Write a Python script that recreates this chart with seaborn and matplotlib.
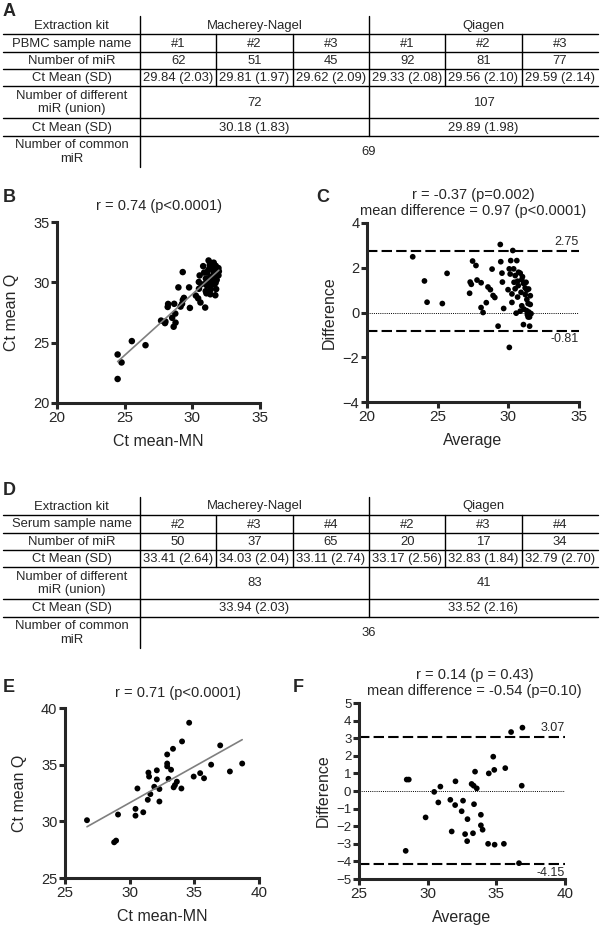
import numpy as np
import pandas as pd
import matplotlib
matplotlib.use("Agg")
import matplotlib.pyplot as plt
import seaborn as sns

# ---------------- table data ----------------
kits = ["Macherey-Nagel", "Qiagen"]

pbmc_samples = ["#1", "#2", "#3", "#1", "#2", "#3"]
pbmc_n_mir = ["62", "51", "45", "92", "81", "77"]
pbmc_ct = ["29.84 (2.03)", "29.81 (1.97)", "29.62 (2.09)",
           "29.33 (2.08)", "29.56 (2.10)", "29.59 (2.14)"]
pbmc_union = ["72", "107"]
pbmc_ct_union = ["30.18 (1.83)", "29.89 (1.98)"]
pbmc_common = "69"

serum_samples = ["#2", "#3", "#4", "#2", "#3", "#4"]
serum_n_mir = ["50", "37", "65", "20", "17", "34"]
serum_ct = ["33.41 (2.64)", "34.03 (2.04)", "33.11 (2.74)",
            "33.17 (2.56)", "32.83 (1.84)", "32.79 (2.70)"]
serum_union = ["83", "41"]
serum_ct_union = ["33.94 (2.03)", "33.52 (2.16)"]
serum_common = "36"

# ---------------- PBMC: Ct mean MN vs Q (69 common miR) ----------------
pbmc_mn = [24.48, 24.77, 24.48, 25.53, 26.54, 27.69, 27.98, 28.01, 28.62, 28.76,
           28.51, 28.74, 28.18, 28.21, 28.66, 29.13, 29.24, 29.82, 29.30, 29.38,
           28.97, 30.95, 30.60, 30.43, 30.26, 29.76, 30.49, 29.29, 31.04, 30.99,
           31.33, 30.67, 30.48, 31.70, 31.35, 31.31, 31.01, 30.54, 31.76, 31.35,
           31.00, 31.62, 31.72, 30.87, 31.69, 31.72, 30.80, 31.74, 31.81, 31.60,
           31.96, 31.73, 31.34, 31.46, 31.30, 31.40, 31.58, 31.20, 31.60, 31.80,
           31.35, 31.60, 31.30, 31.18, 31.08, 31.93, 31.93, 31.10, 31.30]
pbmc_q = [21.99, 23.36, 24.02, 25.13, 24.79, 26.83, 26.62, 26.75, 26.32, 26.66,
          27.06, 27.41, 27.96, 28.21, 28.22, 27.99, 28.22, 27.88, 28.54, 28.71,
          29.58, 27.91, 28.33, 28.67, 28.90, 29.58, 29.47, 30.85, 29.09, 29.27,
          29.01, 29.84, 30.03, 28.93, 29.40, 29.66, 29.95, 30.57, 29.44, 29.95,
          30.31, 29.82, 29.96, 30.81, 30.22, 30.42, 31.34, 30.64, 30.81, 31.02,
          30.91, 31.37, 31.26, 31.44, 31.40, 31.60, 31.63, 31.81, 30.80, 30.20,
          30.45, 31.20, 30.10, 31.03, 29.73, 30.58, 31.18, 30.80, 31.50]
pbmc_limits = [2.75, -0.81]

# ---------------- Serum: Ct mean MN vs Q (36 common miR) ----------------
serum_mn = [26.7, 29.1, 28.8, 28.95, 30.45, 30.45, 31.05, 30.6, 31.4, 31.6,
            31.45, 31.5, 32.1, 31.9, 32.1, 32.3, 32.3, 32.9, 32.9, 32.9,
            33.0, 33.2, 33.35, 33.4, 33.5, 33.65, 34.0, 34.05, 34.6, 34.95,
            35.45, 35.75, 36.3, 37.0, 37.75, 38.7]
serum_q = [30.1, 30.6, 28.15, 28.3, 31.1, 30.5, 30.8, 32.9, 31.9, 32.4,
           34.3, 33.95, 33.7, 33.05, 34.5, 32.85, 31.75, 35.9, 35.1, 34.85,
           33.75, 34.55, 36.4, 33.0, 33.2, 33.5, 32.9, 37.05, 38.7, 33.95,
           34.25, 33.8, 35.0, 36.7, 34.4, 35.1]
serum_limits = [3.07, -4.15]

pbmc = pd.DataFrame({"mn": pbmc_mn, "q": pbmc_q})
pbmc["avg"] = (pbmc["mn"] + pbmc["q"]) / 2
pbmc["diff"] = pbmc["mn"] - pbmc["q"]
serum = pd.DataFrame({"mn": serum_mn, "q": serum_q})
serum["avg"] = (serum["mn"] + serum["q"]) / 2
serum["diff"] = serum["mn"] - serum["q"]

sns.set_style("ticks")
plt.rcParams["font.family"] = ["Liberation Sans", "DejaVu Sans"]

W, H = 600, 927
fig = plt.figure(figsize=(W / 100, H / 100), dpi=100)


def px_axes(l, t, r, b):
    return fig.add_axes([l / W, 1 - b / H, (r - l) / W, (b - t) / H])


# ---------------- tables ----------------
tab = fig.add_axes([0, 0, 1, 1])
tab.set_xlim(0, W)
tab.set_ylim(H, 0)
tab.axis("off")


def draw_table(y0, sample_label, samples, n_mir, ct, union, ct_union, common):
    fs = 9.4
    x0, x1, xr = 3, 140, 598
    xm = 369
    cw = (xm - x1) / 3
    col_c = [x1 + cw * (i + 0.5) for i in range(6)]
    kit_c = [(x1 + xm) / 2, (xm + xr) / 2]
    # row boundaries
    rows = [0, 18, 36, 53, 70, 102, 120, 151]
    ys = [y0 + r for r in rows]
    lw = 1.0
    for y in ys[1:7]:
        tab.plot([x0, xr], [y, y], color="black", lw=lw)
    tab.plot([x1, x1], [ys[0], ys[7]], color="black", lw=lw)
    tab.plot([xm, xm], [ys[0], ys[6]], color="black", lw=lw)
    for i in [1, 2, 4, 5]:
        xx = x1 + cw * i if i < 3 else xm + cw * (i - 3)
        tab.plot([xx, xx], [ys[1], ys[4]], color="black", lw=lw)

    def mid(i):
        return (ys[i] + ys[i + 1]) / 2 + 0.5

    kw = dict(ha="center", va="center", fontsize=fs)
    cx = (x0 + x1) / 2
    tab.text(cx, mid(0), "Extraction kit", **kw)
    for k, c in zip(kits, kit_c):
        tab.text(c, mid(0), k, **kw)
    tab.text(cx, mid(1), sample_label, **kw)
    for s, c in zip(samples, col_c):
        tab.text(c, mid(1), s, **kw)
    tab.text(cx, mid(2), "Number of miR", **kw)
    for s, c in zip(n_mir, col_c):
        tab.text(c, mid(2), s, **kw)
    tab.text(cx, mid(3), "Ct Mean (SD)", **kw)
    for s, c in zip(ct, col_c):
        tab.text(c, mid(3), s, **kw)
    tab.text(cx, mid(4), "Number of different\nmiR (union)", linespacing=1.2, **kw)
    for s, c in zip(union, kit_c):
        tab.text(c, mid(4), s, **kw)
    tab.text(cx, mid(5), "Ct Mean (SD)", **kw)
    for s, c in zip(ct_union, kit_c):
        tab.text(c, mid(5), s, **kw)
    tab.text(cx, mid(6), "Number of common\nmiR", linespacing=1.2, **kw)
    tab.text((x1 + xr) / 2, mid(6), common, **kw)


draw_table(16, "PBMC sample name", pbmc_samples, pbmc_n_mir, pbmc_ct,
           pbmc_union, pbmc_ct_union, pbmc_common)
draw_table(497, "Serum sample name", serum_samples, serum_n_mir, serum_ct,
           serum_union, serum_ct_union, serum_common)


# ---------------- scatter panels ----------------
def style(ax, ylab_fs=9):
    sns.despine(ax=ax)
    for s in ["left", "bottom"]:
        ax.spines[s].set_linewidth(2.2)
    ax.tick_params(width=2.2, length=4, pad=1.5)
    ax.tick_params(axis="x", labelsize=11)
    ax.tick_params(axis="y", labelsize=ylab_fs)


def scatter_panel(ax, df, title, lims, ticks, tx=0.5, s=22):
    sns.scatterplot(data=df, x="mn", y="q", ax=ax, color="black", s=s,
                    edgecolor="none", clip_on=False)
    sns.regplot(data=df, x="mn", y="q", ax=ax, scatter=False, ci=None,
                line_kws=dict(color="#7f7f7f", lw=1.2))
    ax.set_xlim(*lims)
    ax.set_ylim(*lims)
    ax.set_xticks(ticks)
    ax.set_yticks(ticks)
    ax.set_xlabel("Ct mean-MN", fontsize=11.5, labelpad=7)
    ax.set_ylabel("Ct mean Q", fontsize=11.5, labelpad=10)
    ax.text(tx, 1.05, title, transform=ax.transAxes, ha="center",
            va="bottom", fontsize=10.5)
    style(ax, 10.5)


def ba_panel(ax, df, title, limits, xlims, ylims, xticks, yticks, tx=0.5,
             yfs=10):
    sns.scatterplot(data=df, x="avg", y="diff", ax=ax, color="black", s=17,
                    edgecolor="none", clip_on=False)
    for v in limits:
        ax.axhline(v, color="black", lw=1.5, ls=(0, (5, 2)))
    ax.axhline(0, color="black", lw=0.7, ls=(0, (1, 1.2)))
    ax.text(xlims[1], limits[0] + 0.12 * (ylims[1] - ylims[0]) / 8,
            f"{limits[0]:.2f}", ha="right", va="bottom", fontsize=9)
    ax.text(xlims[1], limits[1] - 0.12 * (ylims[1] - ylims[0]) / 8,
            f"{limits[1]:.2f}", ha="right", va="top", fontsize=9)
    ax.set_xlim(*xlims)
    ax.set_ylim(*ylims)
    ax.set_xticks(xticks)
    ax.set_yticks(yticks)
    ax.set_xlabel("Average", fontsize=11.5, labelpad=7)
    ax.set_ylabel("Difference", fontsize=11.5, labelpad=4)
    ax.text(tx, 1.03, title, transform=ax.transAxes, ha="center",
            va="bottom", fontsize=10.5, linespacing=1.15)
    style(ax, yfs)


axB = px_axes(57, 222, 260, 403)
scatter_panel(axB, pbmc, "r = 0.74 (p<0.0001)", (20, 35), [20, 25, 30, 35])

axC = px_axes(367, 223, 579, 402)
ba_panel(axC, pbmc, "r = -0.37 (p=0.002)\nmean difference = 0.97 (p<0.0001)",
         pbmc_limits, (20, 35), (-4, 4), [20, 25, 30, 35], [-4, -2, 0, 2, 4],
         yfs=10.5)

axE = px_axes(65, 708, 259, 878)
scatter_panel(axE, serum, "r = 0.71 (p<0.0001)", (25, 40), [25, 30, 35, 40],
              tx=0.58, s=18)

axF = px_axes(359, 703, 565, 879)
ba_panel(axF, serum, "r = 0.14 (p = 0.43)\nmean difference = -0.54 (p=0.10)",
         serum_limits, (25, 40), (-5, 5), [25, 30, 35, 40], list(range(-5, 6)),
         tx=0.56, yfs=9.5)

# ---------------- panel letters ----------------
for lab, x, y in [("A", 3, 3), ("B", 3, 189), ("C", 316, 189),
                  ("D", 3, 482), ("E", 3, 679), ("F", 293, 679)]:
    fig.text(x / W, 1 - y / H, lab, fontsize=13, fontweight="bold",
             ha="left", va="top")

fig.savefig("out.png", dpi=100)
